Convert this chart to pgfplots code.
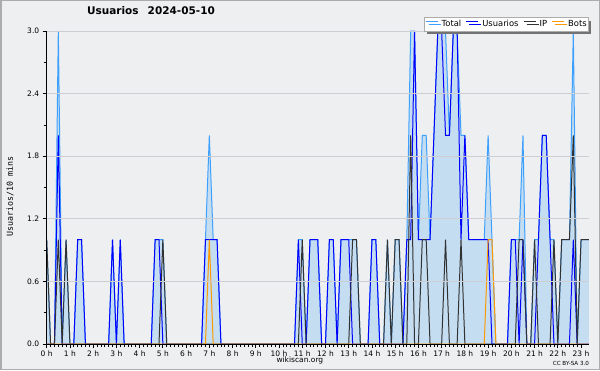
\documentclass[border=0pt]{standalone}
\usepackage{pgfplots}
\pgfplotsset{compat=1.18}
\usepackage{pgfplotstable}
\usepackage{fontspec}
\setmainfont{DejaVu Sans}
\newfontfamily\monofont{DejaVu Sans Mono}
\usetikzlibrary{shadows}
\definecolor{bg}{RGB}{238,239,241}
\definecolor{totalc}{RGB}{60,160,255}
\definecolor{fillc}{RGB}{105,182,244}
\definecolor{userc}{RGB}{0,0,255}
\definecolor{ipc}{RGB}{50,50,50}
\definecolor{botc}{RGB}{255,153,0}
\definecolor{gridc}{RGB}{205,205,210}

\pgfplotstableread{
i T U P B
0 1 0 1 0
1 0 0 0 0
2 0 0 0 0
3 3 2 1 0
4 0 0 0 0
5 1 0 1 0
6 0 0 0 0
7 0 0 0 0
8 1 1 0 0
9 1 1 0 0
10 0 0 0 0
11 0 0 0 0
12 0 0 0 0
13 0 0 0 0
14 0 0 0 0
15 0 0 0 0
16 0 0 0 0
17 1 1 0 0
18 0 0 0 0
19 1 1 0 0
20 0 0 0 0
21 0 0 0 0
22 0 0 0 0
23 0 0 0 0
24 0 0 0 0
25 0 0 0 0
26 0 0 0 0
27 0 0 0 0
28 1 1 0 0
29 1 1 0 0
30 1 0 1 0
31 0 0 0 0
32 0 0 0 0
33 0 0 0 0
34 0 0 0 0
35 0 0 0 0
36 0 0 0 0
37 0 0 0 0
38 0 0 0 0
39 0 0 0 0
40 0 0 0 0
41 1 1 0 0
42 2 1 0 1
43 1 1 0 0
44 1 1 0 0
45 0 0 0 0
46 0 0 0 0
47 0 0 0 0
48 0 0 0 0
49 0 0 0 0
50 0 0 0 0
51 0 0 0 0
52 0 0 0 0
53 0 0 0 0
54 0 0 0 0
55 0 0 0 0
56 0 0 0 0
57 0 0 0 0
58 0 0 0 0
59 0 0 0 0
60 0 0 0 0
61 0 0 0 0
62 0 0 0 0
63 0 0 0 0
64 0 0 0 0
65 1 1 0 0
66 1 0 1 0
67 0 0 0 0
68 1 1 0 0
69 1 1 0 0
70 1 1 0 0
71 0 0 0 0
72 0 0 0 0
73 1 1 0 0
74 1 1 0 0
75 0 0 0 0
76 1 1 0 0
77 1 1 0 0
78 1 1 0 0
79 1 0 1 0
80 1 0 1 0
81 0 0 0 0
82 0 0 0 0
83 0 0 0 0
84 1 1 0 0
85 1 1 0 0
86 0 0 0 0
87 0 0 0 0
88 1 0 1 0
89 0 0 0 0
90 1 0 1 0
91 1 0 1 0
92 0 0 0 0
93 1 1 0 0
94 3 1 2 0
95 3 3 0 0
96 1 1 0 0
97 2 1 1 0
98 2 1 1 0
99 1 1 0 0
100 2 2 0 0
101 3 3 0 0
102 3 3 0 0
103 3 2 1 0
104 2 2 0 0
105 3 3 0 0
106 3 3 0 0
107 2 1 1 0
108 2 2 0 0
109 1 1 0 0
110 1 1 0 0
111 1 1 0 0
112 1 1 0 0
113 1 1 0 0
114 2 1 0 1
115 1 0 0 1
116 0 0 0 0
117 0 0 0 0
118 0 0 0 0
119 0 0 0 0
120 1 1 0 0
121 1 1 0 0
122 1 0 1 0
123 2 1 1 0
124 0 0 0 0
125 0 0 0 0
126 1 0 1 0
127 1 1 0 0
128 2 2 0 0
129 2 2 0 0
130 1 1 0 0
131 1 0 1 0
132 0 0 0 0
133 1 0 1 0
134 1 0 1 0
135 1 0 1 0
136 3 1 2 0
137 0 0 0 0
138 1 0 1 0
139 1 0 1 0
140 1 0 1 0
}\datatable

\begin{document}
\begin{tikzpicture}
\fill[bg] (0,0) rectangle (600pt,370pt);
\draw[gray!65, line width=1.5pt] (0.75pt,0.75pt) rectangle (599.25pt,369.25pt);
\begin{axis}[
  at={(46.7pt,26pt)}, anchor=south west,
  scale only axis, width=542.1pt, height=313pt,
  xmin=0, xmax=140, ymin=0, ymax=3,
  axis x line*=bottom, axis y line*=left,
  axis line style={-, black, line width=1pt},
  axis on top,
  clip=false,
  tick align=outside,
  major tick length=4pt, minor tick length=3pt,
  every tick/.style={black, line width=0.8pt},
  xtick={0,6,...,138},
  xticklabels={0 h,1 h,2 h,3 h,4 h,5 h,6 h,7 h,8 h,9 h,10 h,11 h,12 h,13 h,14 h,15 h,16 h,17 h,18 h,19 h,20 h,21 h,22 h,23 h},
  minor x tick num=5,
  ytick={0,0.6,1.2,1.8,2.4,3.0},
  yticklabels={0.0,0.6,1.2,1.8,2.4,3.0},
  minor y tick num=1,
  ymajorgrids, major grid style={gridc, line width=0.8pt},
  ticklabel style={font=\fontsize{7.5}{8}\selectfont},
  xticklabel style={yshift=1pt},
  title={\textbf{Usuarios\hspace{9pt}2024-05-10}},
  title style={at={(axis description cs:0.1924,1.0457)}, anchor=center, font=\fontsize{10.5}{12}\selectfont, inner sep=0pt},
  ylabel={\monofont Usuarios/10 mins},
  ylabel style={at={(axis description cs:-0.0677,0.47)}, anchor=center, font=\fontsize{8.3}{9}\selectfont},
  xlabel={wikiscan.org},
  xlabel style={at={(axis description cs:0.467,-0.054)}, anchor=center, font=\fontsize{7.5}{9}\selectfont},
  legend style={at={(axis description cs:1,1.045)}, anchor=north east, legend columns=4,
    draw=gray!65, line width=1.2pt, fill=white, font=\fontsize{8.4}{10}\selectfont,
    inner sep=1pt, row sep=0pt, nodes={inner xsep=0.5pt, inner ysep=2pt},
    drop shadow={shadow xshift=3pt, shadow yshift=-3pt, fill=black!55, opacity=1},
    /tikz/every odd column/.append style={column sep=3pt},
    /tikz/every even column/.append style={column sep=4pt}},
  legend image code/.code={\draw[#1, line width=1pt] (0pt,3pt) -- (12pt,3pt);},
]
\addplot[draw=none, fill=fillc, fill opacity=0.3, forget plot] table[x=i, y=T] {\datatable} \closedcycle;
\addplot[totalc, line width=1pt] table[x=i, y=T] {\datatable};
\addlegendentry{Total}
\addplot[userc, line width=1pt] table[x=i, y=U] {\datatable};
\addlegendentry{Usuarios}
\addplot[ipc, line width=1pt] table[x=i, y=P] {\datatable};
\addlegendentry{IP}
\addplot[botc, line width=1pt] table[x=i, y=B] {\datatable};
\addlegendentry{Bots}
\node[font=\fontsize{5.6}{6}\selectfont, anchor=center] at (axis description cs:0.967,-0.061) {CC BY-SA 3.0};
\end{axis}
\end{tikzpicture}
\end{document}
